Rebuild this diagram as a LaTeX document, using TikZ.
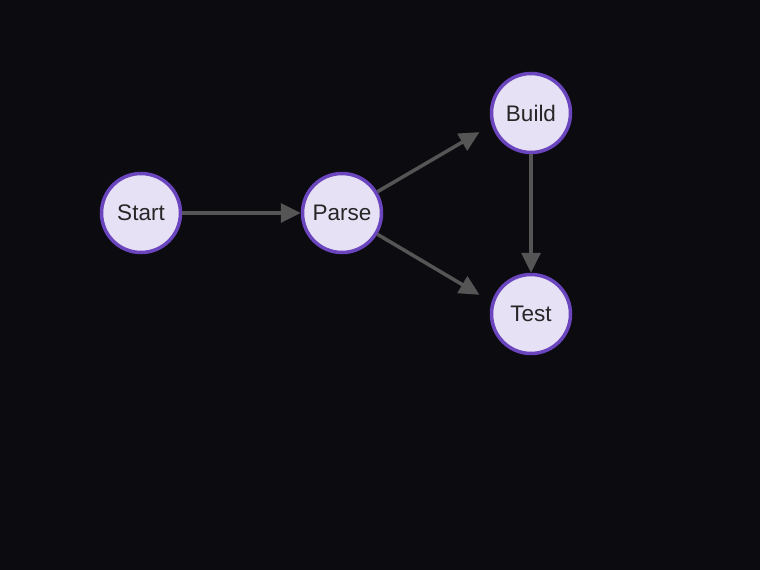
\documentclass[tikz,border=0pt]{standalone}
\usepackage{fontspec}
\setmainfont{Liberation Sans}
\usetikzlibrary{arrows.meta}
\definecolor{bg}{HTML}{0B0B10}
\definecolor{nodefill}{HTML}{E6E1F5}
\definecolor{nodeborder}{HTML}{6A45BE}
\definecolor{edgecol}{HTML}{555555}
\begin{document}
\begin{tikzpicture}[x=1pt,y=-1pt,
  stnode/.style={circle,draw=nodeborder,fill=nodefill,line width=3.5pt,minimum size=79pt,inner sep=0pt,font=\fontsize{22.5}{26}\selectfont,text=black!85},
  edge/.style={draw=edgecol,line width=3.5pt,-{Triangle[length=20pt,width=19pt]}}]
\fill[bg] (0,0) rectangle (760,570);
\useasboundingbox (0,0) rectangle (760,570);
\node[stnode] (start) at (141,213) {Start};
\node[stnode] (parse) at (342,213) {Parse};
\node[stnode] (build) at (531,113) {Build};
\node[stnode] (test) at (531,314) {Test};
\draw[edge] (start) -- (parse);
\draw[edge,shorten >=14pt] (parse.31) -- (build.197);
\draw[edge,shorten >=14pt] (parse.-31) -- (test.163);
\draw[edge] (build) -- (test);
\end{tikzpicture}
\end{document}
